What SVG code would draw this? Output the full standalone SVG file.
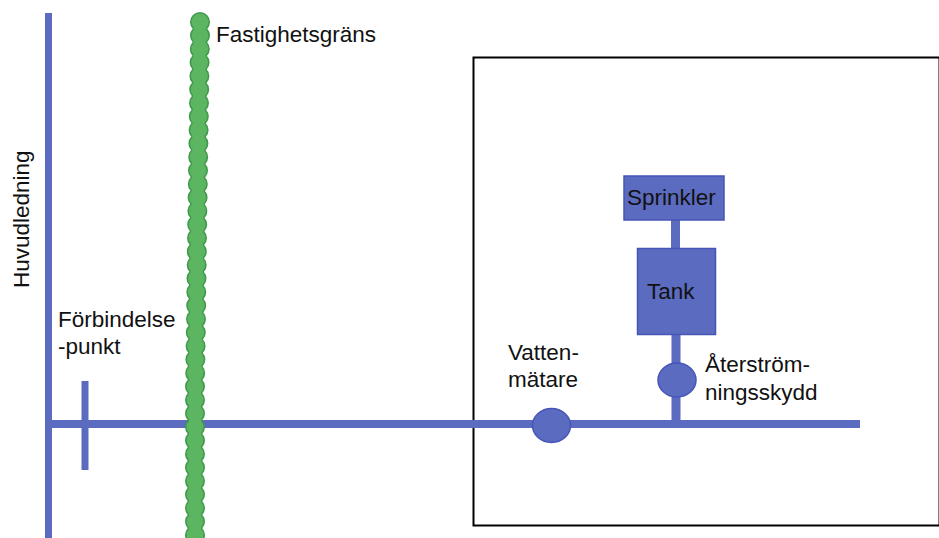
<svg xmlns="http://www.w3.org/2000/svg" width="939" height="538" viewBox="0 0 939 538">
<style>
text{font-family:"Liberation Sans",Arial,sans-serif;font-size:22.500px;fill:#111}
.pipe{stroke:#5b6bc0;fill:none}
.b{fill:#5b6bc0;stroke:#4555b8;stroke-width:1.500}
.c{fill:#5cb560;stroke:#3f9a4c;stroke-width:1.600}
</style>
<defs><circle id="d" class="c" r="9.200"/></defs>
<rect width="939" height="538" fill="#fff"/>
<rect id="building" x="473.500" y="57.500" width="466" height="468" fill="none" stroke="#000" stroke-width="2"/>
<g id="connectors">
<path class="pipe" stroke-width="7" d="M48.500 13V538"/>
<path class="pipe" stroke-width="8" d="M48 424H860"/>
<path class="pipe" stroke-width="7" d="M85 381V470"/>
<path class="pipe" stroke-width="9" d="M675.500 220V250M676 335V424"/>
</g>
<g id="fastighetsgrans">
<use href="#d" x="200" y="22"/><use href="#d" x="200" y="35.500"/><use href="#d" x="199.800" y="49"/><use href="#d" x="199.600" y="62.500"/><use href="#d" x="199.400" y="76"/><use href="#d" x="199.200" y="89.500"/><use href="#d" x="199" y="103"/><use href="#d" x="198.800" y="116.500"/><use href="#d" x="198.600" y="130"/><use href="#d" x="198.400" y="143.500"/><use href="#d" x="198.200" y="157"/><use href="#d" x="198" y="170.500"/><use href="#d" x="197.800" y="184"/><use href="#d" x="197.600" y="197.500"/><use href="#d" x="197.400" y="211"/><use href="#d" x="197.200" y="224.500"/><use href="#d" x="197" y="238"/><use href="#d" x="196.800" y="251.500"/><use href="#d" x="196.700" y="265"/><use href="#d" x="196.500" y="278.500"/><use href="#d" x="196.300" y="292"/><use href="#d" x="196.200" y="305.500"/><use href="#d" x="196" y="319"/><use href="#d" x="195.800" y="332.500"/><use href="#d" x="195.600" y="346"/><use href="#d" x="195.400" y="359.500"/><use href="#d" x="195.200" y="373"/><use href="#d" x="195" y="386.500"/><use href="#d" x="195" y="400"/><use href="#d" x="195" y="413.500"/><use href="#d" x="195" y="427"/><use href="#d" x="195" y="440.500"/><use href="#d" x="195" y="454"/><use href="#d" x="195" y="467.500"/><use href="#d" x="195" y="481"/><use href="#d" x="195" y="494.500"/><use href="#d" x="195" y="508"/><use href="#d" x="195" y="521.500"/><use href="#d" x="195" y="535"/>
<path d="M200 22 L195 386.500 V538" fill="none" stroke="#5cb560" stroke-width="12" stroke-linecap="round"/>
</g>
<g id="sprinkler"><rect class="b" x="624" y="176" width="100" height="44"/><text x="627" y="205">Sprinkler</text></g>
<g id="tank"><rect class="b" x="637.500" y="248.500" width="78" height="86"/><text x="647" y="299">Tank</text></g>
<g id="aterstromningsskydd"><ellipse class="b" cx="677" cy="380" rx="19" ry="17"/><text x="705" y="372">Återström-</text><text x="705" y="400">ningsskydd</text></g>
<g id="vattenmatare"><ellipse class="b" cx="551.500" cy="425.500" rx="19" ry="17"/><text x="508" y="360">Vatten-</text><text x="508" y="387">mätare</text></g>
<g id="labels">
<text x="216" y="42">Fastighetsgräns</text>
<text x="58" y="327">Förbindelse</text><text x="58" y="354">-punkt</text>
<text transform="translate(29 288) rotate(-90)">Huvudledning</text>
</g>
</svg>
